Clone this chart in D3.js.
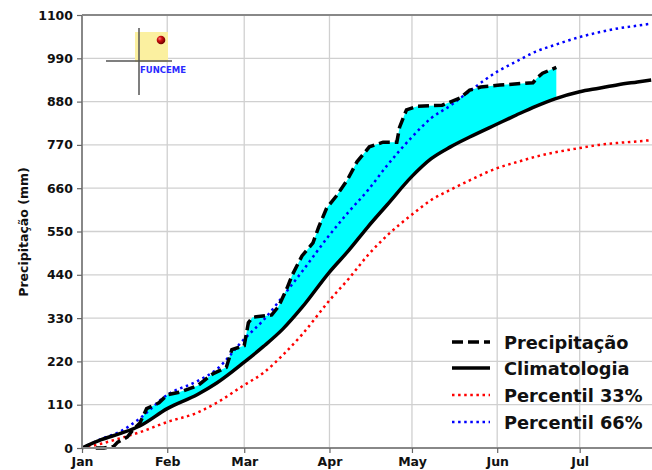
<!DOCTYPE html>
<html>
<head>
<meta charset="utf-8">
<script src="https://cdn.jsdelivr.net/npm/d3@7"></script>
<style>
  html, body { margin: 0; padding: 0; background: #fff; }
  svg { display: block; font-family: "DejaVu Sans", sans-serif; }
</style>
</head>
<body>
<svg id="chart" width="652" height="470"></svg>
<script>
// ---- data (day of year, 0 = 1 Jan) ----
const refDays = [0, 7, 14, 21, 31, 42, 49, 59, 66, 73, 80, 90, 97, 104, 111, 120, 127, 134, 141, 151, 158, 165, 172, 181, 188, 195, 202, 207];
const climatologia = [0, 21, 37, 56, 100, 136, 165, 218, 258, 302, 357, 447, 502, 562, 618, 690, 735, 765, 790, 823, 846, 868, 887, 905, 914, 923, 930, 935];
const percentil33 = [0, 11, 25, 40, 66, 90, 115, 160, 191, 236, 288, 375, 430, 490, 540, 593, 630, 656, 680, 711, 726, 740, 751, 762, 770, 775, 779, 782];
const percentil66 = [0, 23, 42, 75, 135, 170, 200, 277, 325, 385, 448, 541, 600, 655, 718, 790, 838, 870, 907, 956, 982, 1007, 1024, 1044, 1056, 1066, 1073, 1078];

const precipDays = [5, 8, 11.5, 13, 16.5, 18.5, 21, 23.5, 26, 28, 31, 35.5, 42, 47.5, 52.5, 54.5, 59, 60.5, 62, 69, 71.5, 74.5, 76.5, 80, 84, 86, 89, 92.5, 96.5, 100, 104.5, 109.5, 114.5, 115.5, 118, 122, 131, 137.5, 141, 145, 152, 164, 165.5, 167.5, 172.5];
const precipitacao = [0, 0, 4, 15, 28, 46, 63, 100, 108, 115, 135, 142, 158, 188, 205, 250, 260, 318, 332, 338, 360, 405, 440, 488, 521, 560, 610, 640, 681, 727, 765, 777, 777, 815, 859, 868, 871, 889, 909, 917, 922, 928, 940, 952, 967];

const yTicks = [0, 110, 220, 330, 440, 550, 660, 770, 880, 990, 1100];
const monthTicks = ["2023-01-01", "2023-02-01", "2023-03-01", "2023-04-01", "2023-05-01", "2023-06-01", "2023-07-01"];
const legendLabels = ["Precipitação", "Climatologia", "Percentil 33%", "Percentil 66%"];
const yLabel = "Precipitação (mm)";
const logoText = "FUNCEME";

// ---- layout ----
const svg = d3.select("#chart");
const mLeft = 82, mRight = 652, mTop = 15, mBottom = 448;
const DAY = 86400000;
const t0 = Date.UTC(2023, 0, 1);
const dayToDate = d => new Date(t0 + d * DAY);

const x = d3.scaleUtc().domain([dayToDate(0), dayToDate(207.3)]).range([mLeft, mRight]);
const y = d3.scaleLinear().domain([0, 1100]).range([mBottom, mTop]);

const ref = refDays.map((d, i) => ({ d, c: climatologia[i], p33: percentil33[i], p66: percentil66[i] }));
const prec = precipDays.map((d, i) => ({ d, v: precipitacao[i] }));

const DOTS = "2.5,3.6";

// grid
const grid = svg.append("g");
yTicks.forEach(v => {
  grid.append("line").attr("x1", mLeft).attr("x2", mRight).attr("y1", y(v)).attr("y2", y(v))
    .attr("stroke", "#d0d0d0").attr("stroke-width", 1.3);
});
monthTicks.forEach(m => {
  const xx = x(new Date(m + "T00:00:00Z"));
  grid.append("line").attr("x1", xx).attr("x2", xx).attr("y1", mTop).attr("y2", mBottom)
    .attr("stroke", "#d0d0d0").attr("stroke-width", 1.3);
});

// clip path: region above climatology
const defs = svg.append("defs");
const smooth = d3.curveMonotoneX;
defs.append("clipPath").attr("id", "aboveClim").append("path")
  .attr("d", d3.area().curve(smooth).x(p => x(dayToDate(p.d))).y0(0).y1(p => y(p.c))(ref));

// fill between precipitation and climatology
svg.append("path")
  .attr("clip-path", "url(#aboveClim)")
  .attr("fill", "#00ffff")
  .attr("d", d3.area().x(p => x(dayToDate(p.d))).y0(mBottom).y1(p => y(p.v))(prec));

// percentile lines
const lineRef = key => d3.line().curve(smooth).x(p => x(dayToDate(p.d))).y(p => y(p[key]));
svg.append("path").attr("d", lineRef("p33")(ref)).attr("fill", "none")
  .attr("stroke", "#ff0000").attr("stroke-width", 2.5).attr("stroke-dasharray", DOTS);
svg.append("path").attr("d", lineRef("p66")(ref)).attr("fill", "none")
  .attr("stroke", "#0000ff").attr("stroke-width", 2.5).attr("stroke-dasharray", DOTS);

// climatology
svg.append("path").attr("d", lineRef("c")(ref)).attr("fill", "none")
  .attr("stroke", "#000").attr("stroke-width", 3.5).attr("stroke-linejoin", "round");

// precipitation
svg.append("path")
  .attr("d", d3.line().x(p => x(dayToDate(p.d))).y(p => y(p.v))(prec))
  .attr("fill", "none").attr("stroke", "#000").attr("stroke-width", 3.5)
  .attr("stroke-dasharray", "11,5");

// spines
svg.append("line").attr("x1", mLeft).attr("x2", mRight).attr("y1", mTop).attr("y2", mTop)
  .attr("stroke", "#888").attr("stroke-width", 2);
svg.append("line").attr("x1", mLeft).attr("x2", mLeft).attr("y1", mTop).attr("y2", mBottom)
  .attr("stroke", "#888").attr("stroke-width", 2);
svg.append("line").attr("x1", mLeft).attr("x2", mRight).attr("y1", mBottom).attr("y2", mBottom)
  .attr("stroke", "#888").attr("stroke-width", 2.2);

// axes
const yAxis = d3.axisLeft(y).tickValues(yTicks).tickFormat(d3.format("d")).tickSize(5).tickPadding(4);
const gy = svg.append("g").attr("transform", `translate(${mLeft},0)`).call(yAxis);
const xAxis = d3.axisBottom(x).tickValues(monthTicks.map(m => new Date(m + "T00:00:00Z")))
  .tickFormat(d3.utcFormat("%b")).tickSize(5).tickPadding(4);
const gx = svg.append("g").attr("transform", `translate(0,${mBottom})`).call(xAxis);
[gx, gy].forEach(g => {
  g.select(".domain").remove();
  g.selectAll(".tick line").attr("stroke", "#666").attr("stroke-width", 1.2);
  g.selectAll(".tick text").attr("fill", "#111").attr("font-size", "12.5px")
    .attr("font-weight", "bold").attr("font-family", "DejaVu Sans");
});

// y label
svg.append("text").attr("transform", `translate(28,232) rotate(-90)`)
  .attr("text-anchor", "middle").attr("font-size", "12.5px").attr("font-weight", "bold")
  .attr("fill", "#111").text(yLabel);

// legend
const lg = svg.append("g");
const legRows = [342, 368, 395, 422];
const legStyles = [
  { stroke: "#000", w: 3.5, dash: "11,5" },
  { stroke: "#000", w: 3.5, dash: null },
  { stroke: "#ff0000", w: 2.5, dash: DOTS },
  { stroke: "#0000ff", w: 2.5, dash: DOTS }
];
legendLabels.forEach((lab, i) => {
  const s = legStyles[i];
  const ln = lg.append("line").attr("x1", 452).attr("x2", 490).attr("y1", legRows[i]).attr("y2", legRows[i])
    .attr("stroke", s.stroke).attr("stroke-width", s.w);
  if (s.dash) ln.attr("stroke-dasharray", s.dash);
  lg.append("text").attr("x", 504).attr("y", legRows[i] + 6.5)
    .attr("font-size", "17.8px").attr("font-weight", "bold").attr("fill", "#111").text(lab);
});

// logo
const logo = svg.append("g");
const grad = defs.append("radialGradient").attr("id", "ball").attr("cx", "35%").attr("cy", "35%").attr("r", "65%");
grad.append("stop").attr("offset", "0%").attr("stop-color", "#ff8080");
grad.append("stop").attr("offset", "40%").attr("stop-color", "#d01010");
grad.append("stop").attr("offset", "100%").attr("stop-color", "#700000");
logo.append("rect").attr("x", 135).attr("y", 32).attr("width", 33).attr("height", 30).attr("fill", "#fbf0a0");
logo.append("line").attr("x1", 139).attr("x2", 139).attr("y1", 28).attr("y2", 95).attr("stroke", "#555").attr("stroke-width", 1.5);
logo.append("line").attr("x1", 106).attr("x2", 172).attr("y1", 61).attr("y2", 61).attr("stroke", "#555").attr("stroke-width", 1.5);
logo.append("circle").attr("cx", 161).attr("cy", 40).attr("r", 4.3).attr("fill", "url(#ball)");
logo.append("text").attr("x", 140).attr("y", 73).attr("font-size", "8.5px").attr("font-weight", "bold")
  .attr("fill", "#2a2aff").text(logoText);
</script>
</body>
</html>
